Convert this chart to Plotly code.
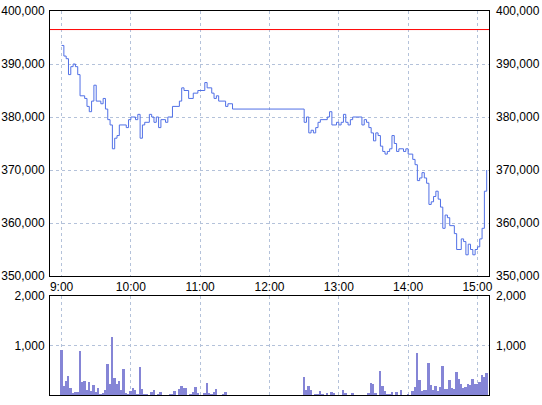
import plotly.graph_objects as go

DAY = "2024-01-01 "

# Price change points (2-minute steps)
price_times = [
    "09:00", "09:02", "09:04", "09:06", "09:08", "09:10", "09:12", "09:14", "09:16", "09:20",
    "09:22", "09:24", "09:26", "09:28", "09:30", "09:34", "09:36", "09:38", "09:40", "09:42",
    "09:44", "09:46", "09:48", "09:50", "09:56", "09:58", "10:00", "10:04", "10:06", "10:08",
    "10:10", "10:12", "10:16", "10:18", "10:20", "10:22", "10:24", "10:26", "10:30", "10:32",
    "10:36", "10:42", "10:44", "10:46", "10:50", "10:54", "10:58", "11:04", "11:06", "11:10",
    "11:12", "11:14", "11:16", "11:22", "11:24", "11:28", "12:30", "12:32", "12:34", "12:36",
    "12:38", "12:40", "12:42", "12:44", "12:50", "12:52", "12:54", "12:58", "13:00", "13:02",
    "13:04", "13:06", "13:08", "13:10", "13:12", "13:20", "13:22", "13:24", "13:26", "13:28",
    "13:30", "13:32", "13:34", "13:36", "13:38", "13:40", "13:42", "13:44", "13:46", "13:48",
    "13:50", "13:52", "13:56", "13:58", "14:00", "14:04", "14:06", "14:08", "14:10", "14:12",
    "14:14", "14:16", "14:18", "14:20", "14:22", "14:24", "14:26", "14:28", "14:30", "14:32",
    "14:34", "14:36", "14:40", "14:42", "14:46", "14:48", "14:50", "14:52", "14:54", "14:56",
    "14:58", "15:00", "15:02", "15:04", "15:06", "15:08",
]
price_values = [
    393500, 391500, 391000, 388000, 389500, 390000, 389500, 388000, 384000, 383500,
    382000, 381000, 383000, 386000, 383000, 382500, 383500, 381500, 379500, 378500,
    374000, 376000, 376500, 378500, 378000, 379500, 380000, 379500, 380500, 376000,
    378500, 379000, 380500, 380000, 379000, 380000, 378000, 379500, 379000, 380000,
    382000, 383000, 385500, 385000, 383500, 384500, 385000, 386500, 385500, 384500,
    383500, 384000, 383000, 382000, 382500, 381500, 379000, 380000, 377000, 377500,
    377000, 378000, 379000, 379500, 380000, 381000, 378500, 379000, 378500, 379000,
    380500, 379000, 378500, 379500, 380000, 378500, 379500, 379000, 378000, 377000,
    375500, 377000, 376500, 374500, 373500, 373000, 373500, 374000, 376500, 375000,
    373500, 374000, 373500, 374000, 373000, 372000, 371000, 368000, 368500, 369500,
    368500, 367500, 363500, 364000, 365000, 366000, 364500, 363000, 359000, 361500,
    361000, 359500, 358000, 355000, 357000, 356500, 354000, 356000, 355000, 354000,
    355000, 355500, 357000, 359000, 366000, 370000,
]

# Reference price (red line)
ref_price = 396500

# Volume per 2-minute bar
volume_times = [
    "09:00", "09:02", "09:04", "09:06", "09:08", "09:10", "09:12", "09:14", "09:16", "09:18",
    "09:20", "09:22", "09:24", "09:26", "09:28", "09:30", "09:32", "09:34", "09:36", "09:38",
    "09:40", "09:42", "09:44", "09:46", "09:48", "09:50", "09:52", "09:54", "09:56", "09:58",
    "10:00", "10:02", "10:04", "10:06", "10:08", "10:10", "10:12", "10:14", "10:18", "10:20",
    "10:24", "10:26", "10:34", "10:36", "10:38", "10:42", "10:44", "10:46", "10:48", "10:52",
    "10:54", "10:56", "10:58", "11:04", "11:06", "11:08", "11:10", "11:12", "11:14", "11:20",
    "11:22",
    "12:30", "12:32", "12:34", "12:36", "12:40", "12:42", "12:44", "12:46", "12:50", "12:54",
    "12:56", "13:04", "13:06", "13:12", "13:26", "13:28", "13:30", "13:32", "13:36", "13:38",
    "13:40", "13:42", "13:44", "13:46", "13:50", "13:54", "14:00", "14:04", "14:06", "14:08",
    "14:10", "14:12", "14:14", "14:16", "14:18", "14:20", "14:22", "14:24", "14:26", "14:28",
    "14:30", "14:32", "14:34", "14:36", "14:38", "14:40", "14:42", "14:44", "14:46", "14:48",
    "14:50", "14:52", "14:54", "14:56", "14:58", "15:00", "15:02", "15:04", "15:06", "15:08",
]
volume_values = [
    900, 180, 290, 390, 140, 50, 60, 60, 880, 260,
    290, 100, 260, 80, 200, 60, 140, 20, 40, 100,
    630, 220, 1180, 350, 220, 290, 100, 530, 40, 20,
    80, 140, 100, 20, 570, 120, 20, 20, 60, 100,
    20, 60, 20, 20, 80, 120, 180, 140, 140, 20,
    60, 160, 40, 40, 240, 40, 20, 60, 120, 20,
    60,
    370, 100, 180, 100, 20, 20, 80, 20, 40, 60,
    40, 100, 40, 40, 40, 240, 220, 40, 490, 180,
    80, 20, 20, 60, 60, 100, 20, 80, 160, 850,
    300, 80, 100, 100, 650, 200, 100, 180, 80, 160,
    580, 120, 120, 300, 140, 120, 460, 320, 220, 140,
    160, 220, 200, 320, 220, 220, 260, 400, 370, 450,
]

price_ticks = [350000, 360000, 370000, 380000, 390000, 400000]
volume_ticks = [1000, 2000]
hour_ticks = ["09:00", "10:00", "11:00", "12:00", "13:00", "14:00", "15:00"]
x_start, x_end = "08:50", "15:10"
price_range = [350000, 400000]
volume_range = [0, 2000]

FONT = dict(family="Liberation Sans, Arial, sans-serif", size=12, color="black")
GRID = "#b4c2da"

x_range = [DAY + x_start, DAY + x_end]
xt = [DAY + t for t in hour_ticks]

fig = go.Figure()
fig.add_trace(go.Scatter(
    x=[DAY + t for t in price_times], y=price_values, mode="lines",
    line=dict(color="#5170e6", width=1, shape="hv"), xaxis="x", yaxis="y",
))
fig.add_trace(go.Scatter(
    x=x_range, y=[ref_price, ref_price], mode="lines",
    line=dict(color="#ff0000", width=1), xaxis="x", yaxis="y3",
))
fig.add_trace(go.Bar(
    x=[DAY + t for t in volume_times], y=volume_values,
    marker=dict(color="#8585d6", line=dict(width=0)), width=100000,
    xaxis="x2", yaxis="y2",
))
fig.add_trace(go.Bar(
    x=[DAY + t for t in volume_times], y=volume_values,
    marker=dict(color="rgba(0,0,0,0)", line=dict(width=0)), width=100000,
    xaxis="x2", yaxis="y4", hoverinfo="skip",
))

common_x = dict(type="date", range=x_range, tickvals=xt, tickformat="%-H:%M",
                showgrid=True, gridcolor=GRID, griddash="3px,3px", gridwidth=1,
                showline=True, linecolor="black", linewidth=1, mirror=True,
                ticks="", zeroline=False, tickfont=FONT, automargin=False)

common_y = dict(tickformat=",d", ticks="", zeroline=False, tickfont=FONT, automargin=False)

fig.update_layout(
    width=542, height=405,
    margin=dict(l=50, r=53, t=11, b=10, pad=0),
    paper_bgcolor="white", plot_bgcolor="white",
    showlegend=False, bargap=0,
    font=FONT,
    xaxis=dict(common_x, domain=[0, 1], anchor="y", showticklabels=True),
    xaxis2=dict(common_x, domain=[0, 1], anchor="y2", showticklabels=False, matches="x"),
    yaxis=dict(common_y, domain=[0.3099, 1], range=price_range, tickvals=price_ticks,
               showgrid=True, gridcolor=GRID, griddash="3px,3px",
               showline=True, linecolor="black", linewidth=1, mirror=True,
               ticklabelstandoff=2, anchor="x"),
    yaxis3=dict(common_y, overlaying="y", side="right", range=price_range, tickvals=price_ticks,
                showgrid=False, showline=False, ticklabelstandoff=6, anchor="x"),
    yaxis2=dict(common_y, domain=[0, 0.2578], range=volume_range, tickvals=volume_ticks,
                showgrid=True, gridcolor=GRID, griddash="3px,3px",
                showline=True, linecolor="black", linewidth=1, mirror=True,
                ticklabelstandoff=2, anchor="x2"),
    yaxis4=dict(common_y, overlaying="y2", side="right", range=volume_range, tickvals=volume_ticks,
                showgrid=False, showline=False, ticklabelstandoff=6, anchor="x2"),
)

fig.write_html("out.html", config={"displayModeBar": False},
               post_script="document.body.style.margin='0';")
